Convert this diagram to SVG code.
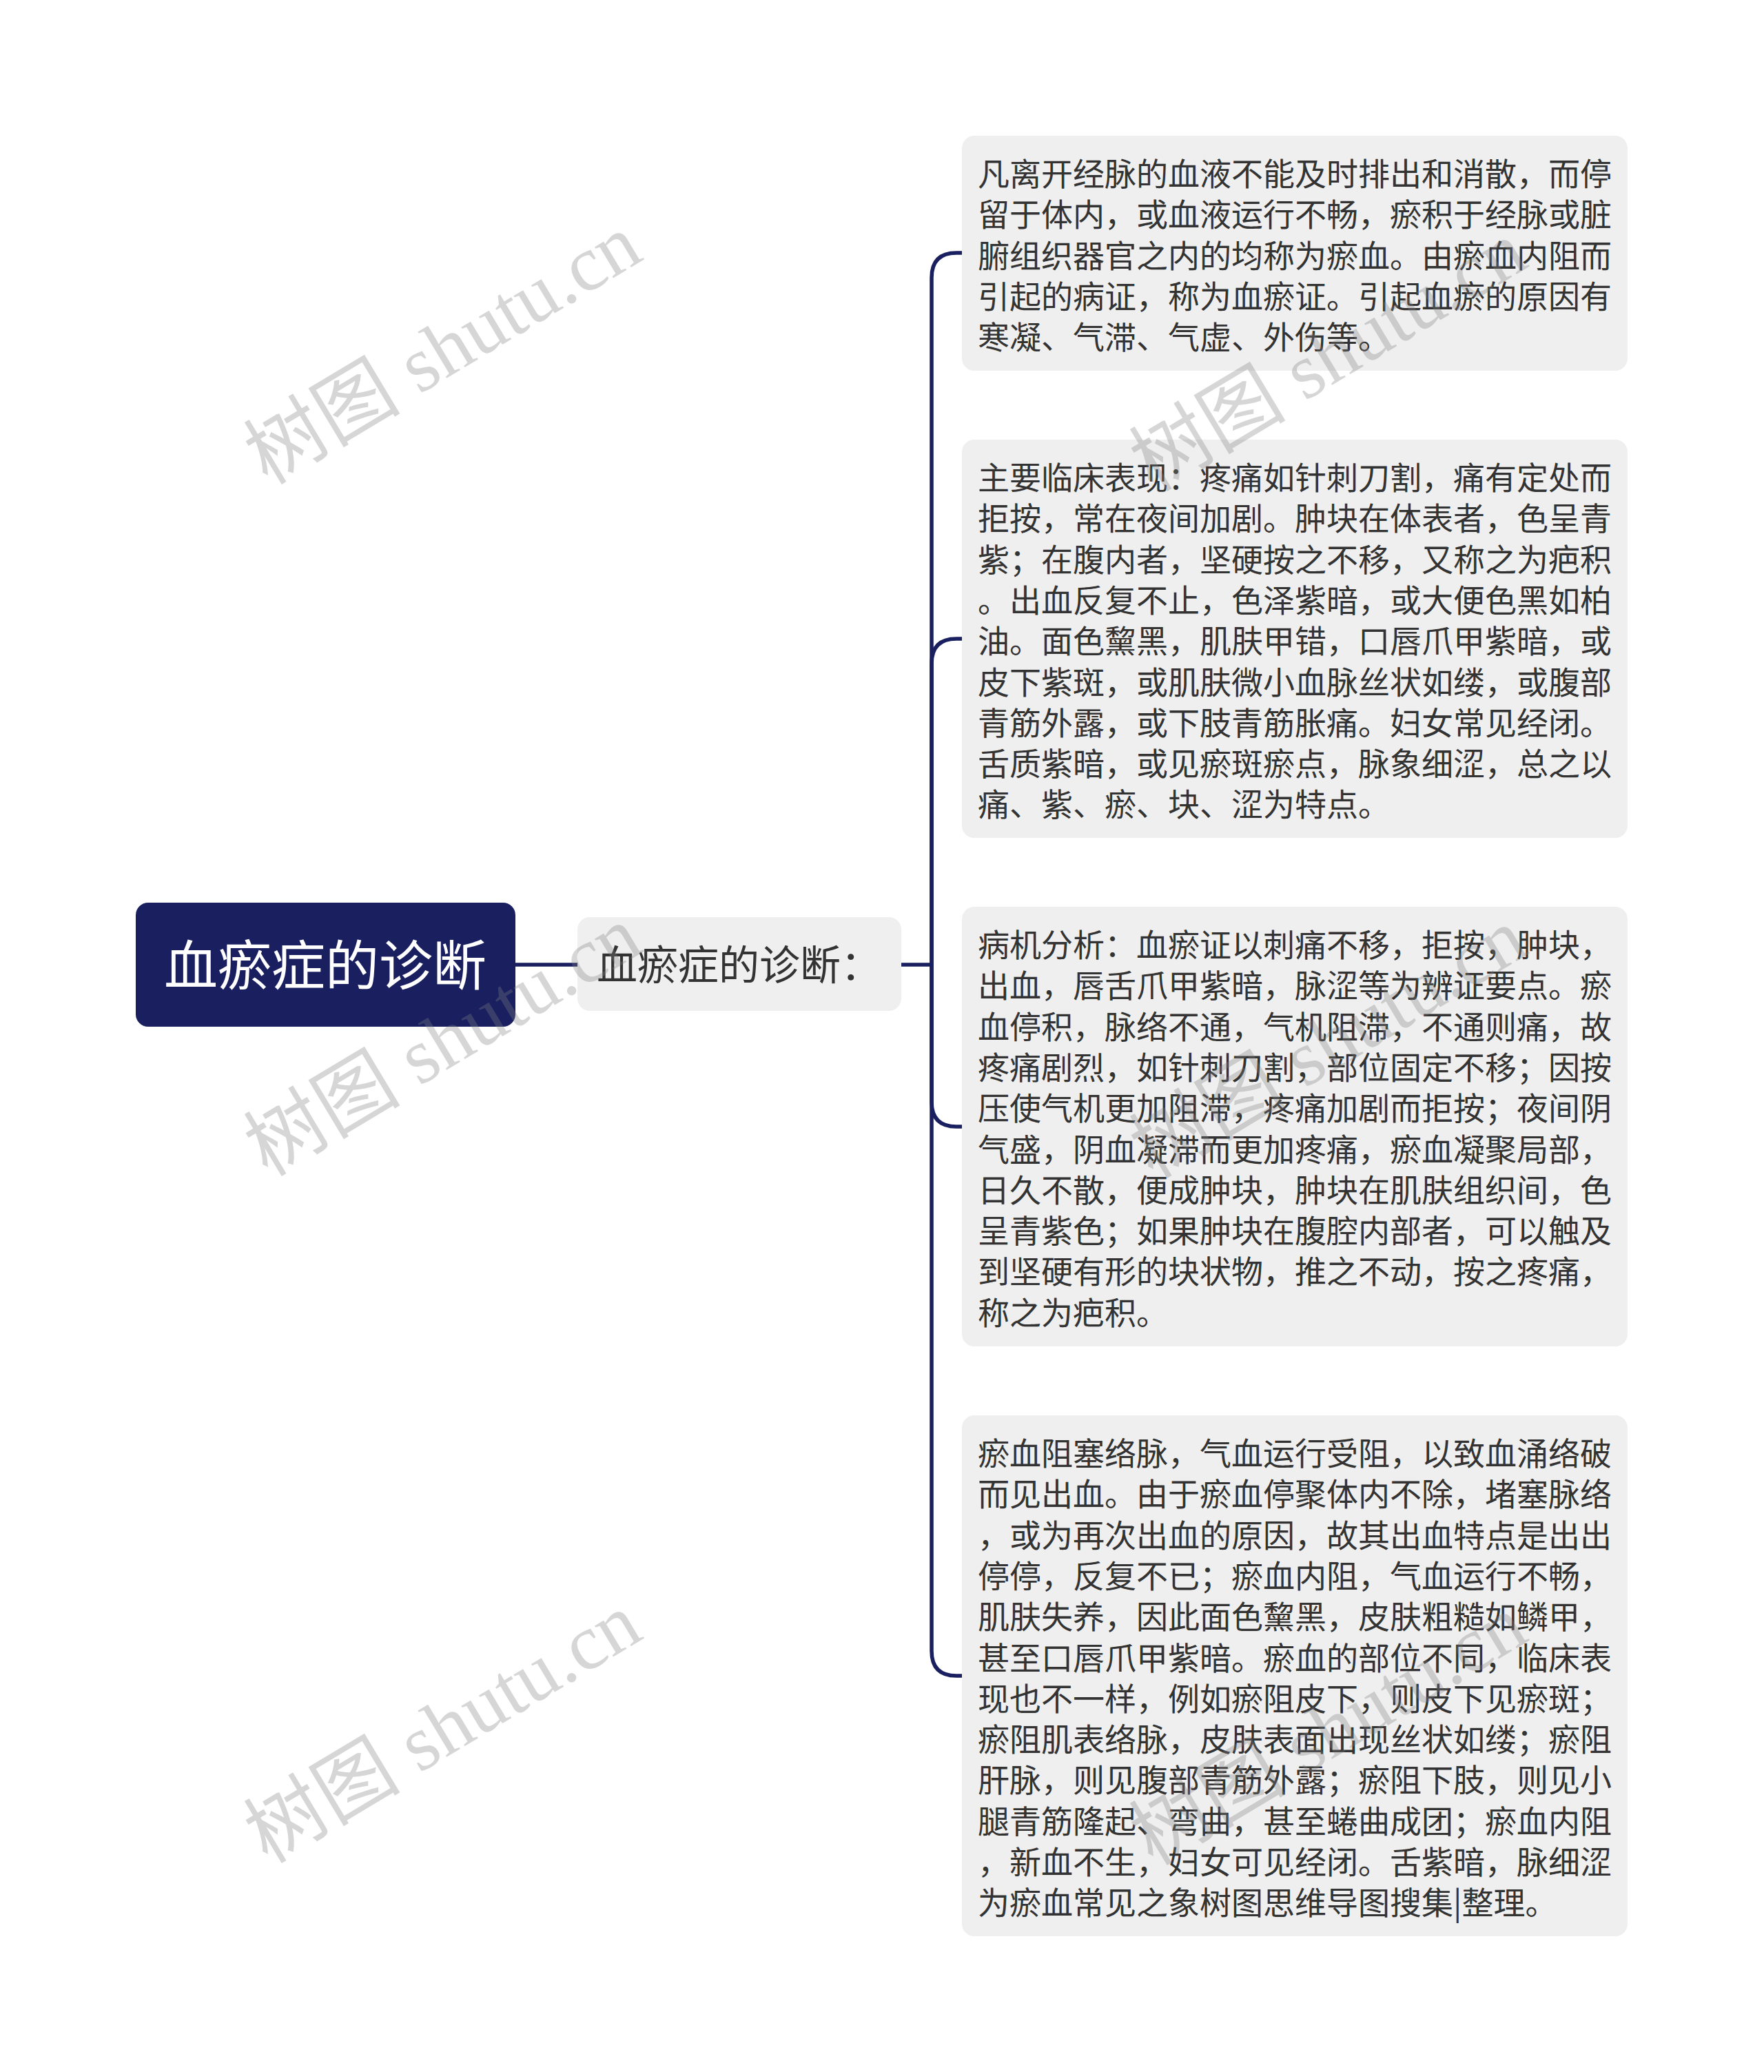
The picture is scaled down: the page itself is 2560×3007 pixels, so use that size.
<svg xmlns="http://www.w3.org/2000/svg" width="2560" height="3007" viewBox="0 0 2560 3007">
<style>
.bg{fill:#ffffff}
.root rect{fill:#1a1f60}
.root text{fill:#ffffff;font-family:"Noto Sans CJK SC",sans-serif;font-size:78px;text-anchor:middle}
.box{fill:#efefef}
.t{fill:#333333;font-family:"Noto Sans CJK SC",sans-serif;font-size:46px}
.mid text{fill:#333333;font-family:"Noto Sans CJK SC",sans-serif;font-size:59px}
.conn path{fill:none;stroke:#1a1f60;stroke-width:5.5;stroke-linecap:butt}
.wm text{fill:#7f7f7f;fill-opacity:0.32;font-family:"Liberation Serif","Noto Sans CJK SC",serif;font-size:114px;text-anchor:middle}
</style>
<rect class="bg" x="0" y="0" width="2560" height="3007"/>
<g id="connectors" class="conn">
<path d="M748,1400 H838"/>
<path d="M1308,1400 H1352"/>
<path d="M1352,1400 V403 Q1352,367 1388,367 H1396"/>
<path d="M1352,1400 V963 Q1352,927 1388,927 H1396"/>
<path d="M1352,1400 V1599 Q1352,1635 1388,1635 H1396"/>
<path d="M1352,1400 V2396 Q1352,2432 1388,2432 H1396"/>
</g>
<g id="root" class="root">
<rect x="197" y="1310" width="551" height="180" rx="18"/>
<text x="472" y="1430">血瘀症的诊断</text>
</g>
<g id="mid" class="mid">
<rect class="box" x="838" y="1331" width="470" height="136" rx="18"/>
<text x="866" y="1422">血瘀症的诊断：</text>
</g>
<g id="n1">
<rect class="box" x="1396" y="197" width="966" height="341" rx="18"/>
<text class="t" x="1419"><tspan x="1419" y="269">凡离开经脉的血液不能及时排出和消散，而停</tspan><tspan x="1419" y="328.3">留于体内，或血液运行不畅，瘀积于经脉或脏</tspan><tspan x="1419" y="387.6">腑组织器官之内的均称为瘀血。由瘀血内阻而</tspan><tspan x="1419" y="446.9">引起的病证，称为血瘀证。引起血瘀的原因有</tspan><tspan x="1419" y="506.2">寒凝、气滞、气虚、外伤等。</tspan></text>
</g>
<g id="n2">
<rect class="box" x="1396" y="638" width="966" height="578" rx="18"/>
<text class="t" x="1419"><tspan x="1419" y="710">主要临床表现：疼痛如针刺刀割，痛有定处而</tspan><tspan x="1419" y="769.3">拒按，常在夜间加剧。肿块在体表者，色呈青</tspan><tspan x="1419" y="828.6">紫；在腹内者，坚硬按之不移，又称之为疤积</tspan><tspan x="1419" y="887.9">。出血反复不止，色泽紫暗，或大便色黑如柏</tspan><tspan x="1419" y="947.2">油。面色黧黑，肌肤甲错，口唇爪甲紫暗，或</tspan><tspan x="1419" y="1006.5">皮下紫斑，或肌肤微小血脉丝状如缕，或腹部</tspan><tspan x="1419" y="1065.8">青筋外露，或下肢青筋胀痛。妇女常见经闭。</tspan><tspan x="1419" y="1125.1">舌质紫暗，或见瘀斑瘀点，脉象细涩，总之以</tspan><tspan x="1419" y="1184.4">痛、紫、瘀、块、涩为特点。</tspan></text>
</g>
<g id="n3">
<rect class="box" x="1396" y="1316" width="966" height="638" rx="18"/>
<text class="t" x="1419"><tspan x="1419" y="1388">病机分析：血瘀证以刺痛不移，拒按，肿块，</tspan><tspan x="1419" y="1447.3">出血，唇舌爪甲紫暗，脉涩等为辨证要点。瘀</tspan><tspan x="1419" y="1506.6">血停积，脉络不通，气机阻滞，不通则痛，故</tspan><tspan x="1419" y="1565.9">疼痛剧烈，如针刺刀割，部位固定不移；因按</tspan><tspan x="1419" y="1625.2">压使气机更加阻滞，疼痛加剧而拒按；夜间阴</tspan><tspan x="1419" y="1684.5">气盛，阴血凝滞而更加疼痛，瘀血凝聚局部，</tspan><tspan x="1419" y="1743.8">日久不散，便成肿块，肿块在肌肤组织间，色</tspan><tspan x="1419" y="1803.1">呈青紫色；如果肿块在腹腔内部者，可以触及</tspan><tspan x="1419" y="1862.4">到坚硬有形的块状物，推之不动，按之疼痛，</tspan><tspan x="1419" y="1921.7">称之为疤积。</tspan></text>
</g>
<g id="n4">
<rect class="box" x="1396" y="2054" width="966" height="756" rx="18"/>
<text class="t" x="1419"><tspan x="1419" y="2126">瘀血阻塞络脉，气血运行受阻，以致血涌络破</tspan><tspan x="1419" y="2185.3">而见出血。由于瘀血停聚体内不除，堵塞脉络</tspan><tspan x="1419" y="2244.6">，或为再次出血的原因，故其出血特点是出出</tspan><tspan x="1419" y="2303.9">停停，反复不已；瘀血内阻，气血运行不畅，</tspan><tspan x="1419" y="2363.2">肌肤失养，因此面色黧黑，皮肤粗糙如鳞甲，</tspan><tspan x="1419" y="2422.5">甚至口唇爪甲紫暗。瘀血的部位不同，临床表</tspan><tspan x="1419" y="2481.8">现也不一样，例如瘀阻皮下，则皮下见瘀斑；</tspan><tspan x="1419" y="2541.1">瘀阻肌表络脉，皮肤表面出现丝状如缕；瘀阻</tspan><tspan x="1419" y="2600.4">肝脉，则见腹部青筋外露；瘀阻下肢，则见小</tspan><tspan x="1419" y="2659.7">腿青筋隆起、弯曲，甚至蜷曲成团；瘀血内阻</tspan><tspan x="1419" y="2719">，新血不生，妇女可见经闭。舌紫暗，脉细涩</tspan><tspan x="1419" y="2778.3">为瘀血常见之象树图思维导图搜集|整理。</tspan></text>
</g>
<g id="watermarks" class="wm">
<text x="645" y="545" transform="rotate(-31 645 511)">树图 shutu.cn</text>
<text x="645" y="1549" transform="rotate(-31 645 1515)">树图 shutu.cn</text>
<text x="645" y="2546" transform="rotate(-31 645 2512)">树图 shutu.cn</text>
<text x="1930" y="555" transform="rotate(-31 1930 521)">树图 shutu.cn</text>
<text x="1930" y="1552" transform="rotate(-31 1930 1518)">树图 shutu.cn</text>
<text x="1930" y="2549" transform="rotate(-31 1930 2515)">树图 shutu.cn</text>
</g>
</svg>
